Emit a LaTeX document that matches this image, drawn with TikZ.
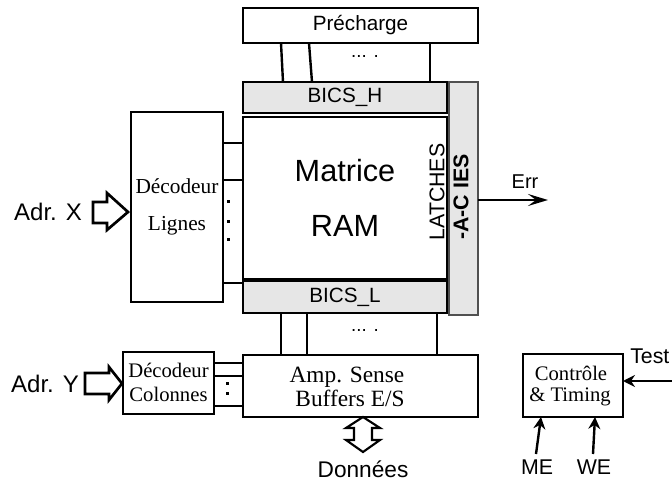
\documentclass[tikz,border=0pt]{standalone}
\usepackage{fontspec}
\setmainfont{Liberation Sans}
\newfontfamily\tms{Liberation Serif}
\usetikzlibrary{calc,arrows.meta}
\definecolor{bicsgray}{HTML}{E6E6E6}
\definecolor{latchline}{HTML}{505050}
\newcommand\fs[1]{\fontsize{#1}{#1}\selectfont}
\begin{document}
\begin{tikzpicture}[x=0.75pt,y=-0.75pt,
  box/.style={draw, line width=2pt, inner sep=0pt, outer sep=0pt, fill=white},
  sz/.style 2 args={minimum width=#1*0.75pt, minimum height=#2*0.75pt},
  wire/.style={line width=1.8pt},
  blockarrow/.style={line width=2pt, line join=miter, fill=white},
  tip/.style={-{Stealth[length=9pt,width=9pt,inset=3pt]}},
  sftxt/.style={inner sep=0pt, font=\fs{#1}},
  tmtxt/.style={inner sep=0pt, font=\tms\fs{#1}}]
\useasboundingbox (0,0) rectangle (672,481);

% boxes
\node[box,sz={235}{35},font=\fs{15.5}] (pre) at (360.5,25.5) {Précharge};
\node[box,fill=bicsgray,sz={204}{31},font=\fs{15.5}] (bicsH) at (345,97.5) {BICS\_H};
\node[box,sz={204}{162}] (mat) at (345,198) {};
\node[box,fill=bicsgray,sz={204}{32},font=\fs{15.5}] (bicsL) at (345,297) {BICS\_L};
\node[box,fill=bicsgray,draw=latchline,sz={29}{233}] (latch) at (463.5,198.5) {};
\node[box,sz={235}{62}] (amp) at (360.5,386) {};
\node[box,sz={92}{190}] (decL) at (177,207) {};
\node[box,sz={91}{62}] (decC) at (168.5,383) {};
\node[box,sz={100}{63}] (ctrl) at (573,385.5) {};

% bus lines
\draw[wire] ($(pre.south west)+(38,0)$) -- ($(bicsH.north west)+(40,0)$);
\draw[wire] ($(pre.south west)+(66,0)$) -- ($(bicsH.north west)+(69,0)$);
\draw[wire] ($(pre.south west)+(187,0)$) -- ($(bicsH.north west)+(187,0)$);
\node[sftxt=14] (dotsH) at (365,57) {... .};

\draw[wire] ($(bicsL.south west)+(38,0)$) -- ($(amp.north west)+(38,0)$);
\draw[wire] ($(bicsL.south west)+(64,0)$) -- ($(amp.north west)+(64,0)$);
\draw[wire] ($(bicsL.south west)+(194,0)$) -- ($(amp.north west)+(194,0)$);
\node[sftxt=14] (dotsL) at (365,331) {... .};

\draw[wire] ($(decL.north east)+(0,31)$) -- ($(mat.north west)+(0,26)$);
\draw[wire] ($(decL.north east)+(0,68)$) -- ($(mat.north west)+(0,63)$);
\draw[wire] ($(decL.north east)+(0,171)$) -- ($(bicsL.north west)+(0,2)$);
\foreach \yy in {202,222,240} \fill (226.5,\yy-1.5) rectangle ++(3,3);

\draw[wire] ($(decC.north east)+(0,11)$) -- ($(amp.north west)+(0,8)$);
\draw[wire] ($(decC.north east)+(0,24)$) -- ($(amp.north west)+(0,21)$);
\draw[wire] ($(decC.north east)+(0,54)$) -- ($(amp.north west)+(0,51)$);
\foreach \yy in {383,393} \fill (225.5,\yy-1.5) rectangle ++(3,3);

% texts in boxes
\node[sftxt=23] (matA) at (345,171) {Matrice};
\node[sftxt=23] (matB) at (345,226) {RAM};
\node[sftxt=16,rotate=90] (latchA) at (437,192) {LATCHES};
\node[sftxt=16,font=\bfseries\fs{16},rotate=90] (latchB) at (461,197) {-A-C IES};
\node[tmtxt=16] (decLa) at (177,186) {Décodeur};
\node[tmtxt=16] (decLb) at (177,226) {Lignes};
\node[tmtxt=15.5] (decCa) at (168.5,370) {Décodeur};
\node[tmtxt=15.5] (decCb) at (168.5,394) {Colonnes};
\node[tmtxt=17.5] (ampA) at (347,377) {Amp. Sense};
\node[tmtxt=17.5] (ampB) at (350,398) {Buffers E/S};
\node[tmtxt=15.5] (ctrlA) at (571,373) {Contrôle};
\node[tmtxt=15.5] (ctrlB) at (570,397) {\& Timing};

% inputs
\node[sftxt=18] (adrx) at (48,212) {Adr. X};
\draw[blockarrow] (93,202) -- (107,202) -- (107,193) -- (128,212) -- (107,230) -- (107,223) -- (93,223) -- cycle;
\node[sftxt=18] (adry) at (45,384) {Adr. Y};
\draw[blockarrow] (85,373) -- (109,373) -- (109,367) -- (122,383.5) -- (109,400) -- (109,394) -- (85,394) -- cycle;

\draw[blockarrow,line width=1.6pt] (363,417) -- (380,428) -- (372,428) -- (372,440) -- (380,440) -- (363,452) -- (346,440) -- (354,440) -- (354,428) -- (346,428) -- cycle;
\node[sftxt=17] (donnees) at (363,469) {Données};

% Err output
\coordinate (errend) at (548,200);
\draw[wire,-{Stealth[length=15pt,width=9pt,inset=6pt]}] ($(latch.east)+(0,1.5)$) -- (errend);
\node[sftxt=15] (err) at (525,182) {Err};

% control
\coordinate (testin) at (672,381);
\draw[wire,tip] (testin) -- ($(ctrl.east)+(0,-4.5)$);
\node[sftxt=16,anchor=west] (test) at (630,356) {Test};
\coordinate (mebot) at (536,454);
\coordinate (webot) at (593,454);
\draw[wire,tip] (mebot) -- ($(ctrl.south west)+(18,0)$);
\draw[wire,tip] (webot) -- ($(ctrl.south west)+(72,0)$);
\node[sftxt=16] (me) at (537,467) {ME};
\node[sftxt=16] (we) at (594,467) {WE};
\end{tikzpicture}
\end{document}
